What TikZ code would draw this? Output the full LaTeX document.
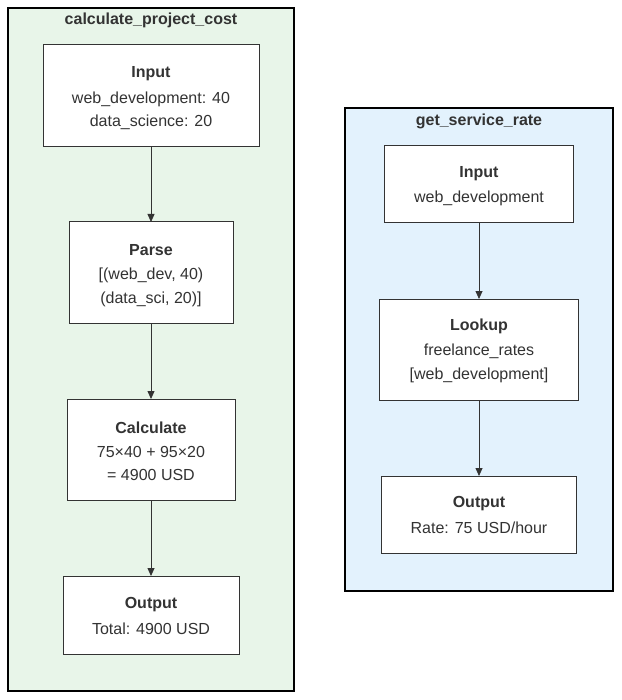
\documentclass[tikz,border=0pt]{standalone}
\usepackage{fontspec}
\setmainfont{Liberation Sans}
\usetikzlibrary{arrows.meta}
\definecolor{txt}{HTML}{333333}
\definecolor{gfill}{HTML}{E8F5E9}
\definecolor{bfill}{HTML}{E3F2FD}
\tikzset{
  cluster/.style={draw=black, line width=2pt},
  box/.style={draw=txt, fill=white, line width=1pt},
  lbl/.style={text=txt, font=\fontsize{16}{20}\selectfont, anchor=center, inner sep=0pt, yshift=-2pt},
  ttl/.style={text=txt, font=\fontsize{16}{20}\selectfont\bfseries, anchor=center, inner sep=0pt, yshift=-1.5pt},
  conn/.style={draw=txt, line width=0.8pt, -{Triangle[length=8pt,width=7pt]}},
}
\begin{document}
\begin{tikzpicture}[x=1pt,y=-1pt]
\useasboundingbox (0,0) rectangle (621,700);
% clusters
\draw[cluster, fill=gfill] (8,8) rectangle (294,691);
\node[ttl] (t1) at (151,19) {calculate\_project\_cost};
\draw[cluster, fill=bfill] (345,108) rectangle (613,591);
\node[ttl] (t2) at (479,120) {get\_service\_rate};
% left boxes
\draw[box] (43,45) rectangle (259,147); \coordinate (a1t) at (151,45); \coordinate (a1b) at (151,147);
\node[ttl] (a1h) at (151,72) {Input};
\node[lbl] (a1l1) at (151,97) {web\_development: 40};
\node[lbl] (a1l2) at (151,120) {data\_science: 20};

\draw[box] (69,222) rectangle (233,323); \coordinate (a2t) at (151,222); \coordinate (a2b) at (151,323);
\node[ttl] (a2h) at (151,249) {Parse};
\node[lbl] (a2l1) at (151,273) {[(web\_dev, 40)};
\node[lbl] (a2l2) at (151,297) {(data\_sci, 20)]};

\draw[box] (67,399) rectangle (235,500); \coordinate (a3t) at (151,399); \coordinate (a3b) at (151,500);
\node[ttl] (a3h) at (151,426) {Calculate};
\node[lbl] (a3l1) at (151,450) {75×40 + 95×20};
\node[lbl] (a3l2) at (151,473) {= 4900 USD};

\draw[box] (63,576) rectangle (239,654); \coordinate (a4t) at (151,576);
\node[ttl] (a4h) at (151,603) {Output};
\node[lbl] (a4l1) at (151,627) {Total: 4900 USD};

\draw[conn] (a1b) -- (a2t);
\draw[conn] (a2b) -- (a3t);
\draw[conn] (a3b) -- (a4t);

% right boxes
\draw[box] (384,146) rectangle (573,223); \coordinate (b1b) at (479,223);
\node[ttl] (b1h) at (479,172) {Input};
\node[lbl] (b1l1) at (479,196) {web\_development};

\draw[box] (379,299) rectangle (578,400); \coordinate (b2t) at (479,299); \coordinate (b2b) at (479,400);
\node[ttl] (b2h) at (479,325) {Lookup};
\node[lbl] (b2l1) at (479,349) {freelance\_rates};
\node[lbl] (b2l2) at (479,373) {[web\_development]};

\draw[box] (381,476) rectangle (576,553); \coordinate (b3t) at (479,476);
\node[ttl] (b3h) at (479,502) {Output};
\node[lbl] (b3l1) at (479,526) {Rate: 75 USD/hour};

\draw[conn] (b1b) -- (b2t);
\draw[conn] (b2b) -- (b3t);
\end{tikzpicture}
\end{document}
